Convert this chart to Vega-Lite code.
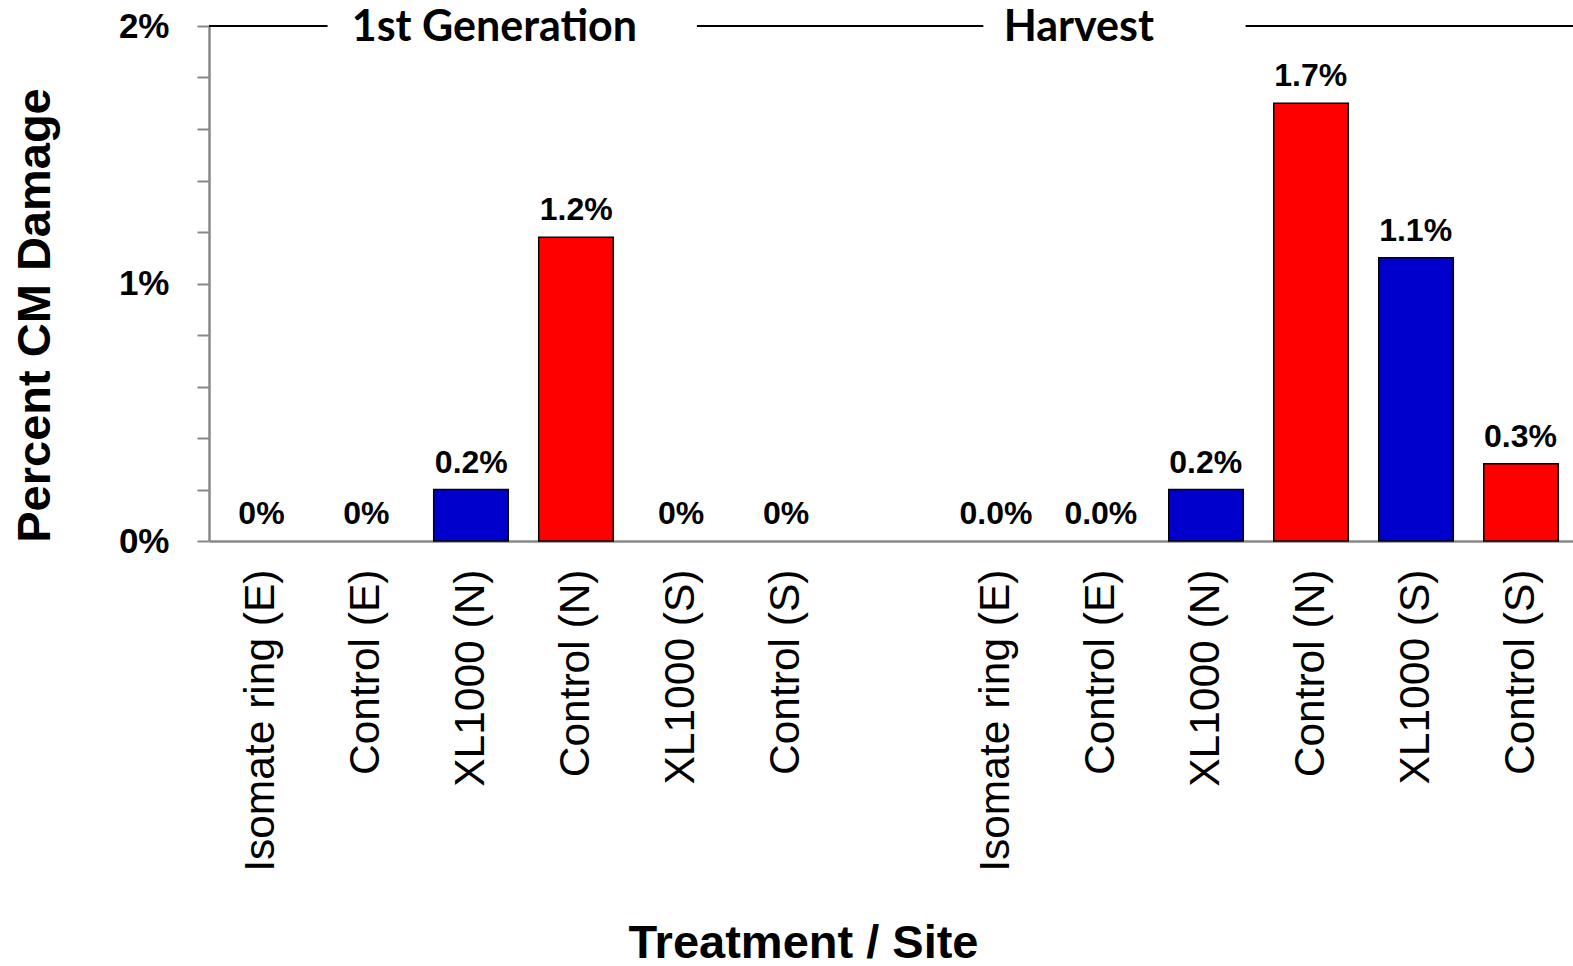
{
  "$schema": "https://vega.github.io/schema/vega-lite/v6.json",
  "width": 1364,
  "height": 515,
  "autosize": {"type": "none"},
  "padding": {"left": 209, "top": 26, "right": 0, "bottom": 425},
  "background": "white",
  "config": {"view": {"stroke": null}, "font": "Liberation Sans"},
  "datasets": {
    "bars": [
      {"cat": "Isomate ring (E)", "period": "1st Generation", "type": "Treatment", "value": 0, "label": "0%"},
      {"cat": "Control (E)", "period": "1st Generation", "type": "Control", "value": 0, "label": "0%"},
      {"cat": "XL1000 (N)", "period": "1st Generation", "type": "Treatment", "value": 0.2, "label": "0.2%"},
      {"cat": "Control (N)", "period": "1st Generation", "type": "Control", "value": 1.18, "label": "1.2%"},
      {"cat": "XL1000 (S)", "period": "1st Generation", "type": "Treatment", "value": 0, "label": "0%"},
      {"cat": "Control (S)", "period": "1st Generation", "type": "Control", "value": 0, "label": "0%"},
      {"cat": "Isomate ring (E) ", "period": "Harvest", "type": "Treatment", "value": 0, "label": "0.0%"},
      {"cat": "Control (E) ", "period": "Harvest", "type": "Control", "value": 0, "label": "0.0%"},
      {"cat": "XL1000 (N) ", "period": "Harvest", "type": "Treatment", "value": 0.2, "label": "0.2%"},
      {"cat": "Control (N) ", "period": "Harvest", "type": "Control", "value": 1.7, "label": "1.7%"},
      {"cat": "XL1000 (S) ", "period": "Harvest", "type": "Treatment", "value": 1.1, "label": "1.1%"},
      {"cat": "Control (S) ", "period": "Harvest", "type": "Control", "value": 0.3, "label": "0.3%"}
    ],
    "segments": [
      {"x": 0, "x2": 1.13},
      {"x": 4.65, "x2": 7.38},
      {"x": 9.88, "x2": 13}
    ],
    "heads": [
      {"x": 2.72, "label": "1st Generation"},
      {"x": 8.29, "label": "Harvest"}
    ]
  },
  "resolve": {"scale": {"x": "independent"}},
  "layer": [
    {
      "mark": {"type": "rule", "color": "#888888", "strokeWidth": 1.5},
      "encoding": {"y": {"datum": 1, "type": "quantitative", "scale": {"domain": [0, 2], "nice": false}}}
    },
    {
      "data": {"name": "bars"},
      "transform": [{"filter": "datum.value > 0"}],
      "mark": {"type": "bar", "stroke": "black", "strokeWidth": 1.5},
      "encoding": {
        "x": {
          "field": "cat", "type": "nominal",
          "scale": {
            "domain": ["Isomate ring (E)", "Control (E)", "XL1000 (N)", "Control (N)", "XL1000 (S)", "Control (S)", " ",
                       "Isomate ring (E) ", "Control (E) ", "XL1000 (N) ", "Control (N) ", "XL1000 (S) ", "Control (S) "],
            "paddingInner": 0.29, "paddingOuter": 0.14
          },
          "axis": {
            "labelAngle": -90, "labelAlign": "right", "labelBaseline": "middle",
            "labelFontSize": 42.5, "labelColor": "black", "labelPadding": 28, "labelLimit": 0,
            "ticks": false, "domainColor": "#888888", "domainWidth": 2.5,
            "title": "Treatment / Site", "titleFontSize": 47, "titleFontWeight": "bold", "titleColor": "black",
            "titleX": 594, "titleY": 402, "titleBaseline": "middle", "titleAlign": "center"
          }
        },
        "y": {
          "field": "value", "type": "quantitative",
          "scale": {"domain": [0, 2], "nice": false},
          "axis": {
            "values": [0, 0.2, 0.4, 0.6, 0.8, 1, 1.2, 1.4, 1.6, 1.8, 2],
            "labelExpr": "datum.value === 0 || datum.value === 1 || datum.value === 2 ? datum.value + '%' : ''",
            "labelFontSize": 35, "labelFontWeight": "bold", "labelColor": "black", "labelPadding": 28,
            "tickSize": 12, "tickColor": "#888888", "tickWidth": 2,
            "domainColor": "#888888", "domainWidth": 2.5, "grid": false,
            "title": "Percent CM Damage", "titleFontSize": 47, "titleFontWeight": "bold", "titleColor": "black",
            "titleX": -174, "titleY": 289, "titleBaseline": "middle", "titleAlign": "center", "titleAngle": -90
          }
        },
        "color": {
          "field": "type", "type": "nominal",
          "scale": {"domain": ["Treatment", "Control"], "range": ["#0000CC", "#FF0000"]},
          "legend": null
        }
      }
    },
    {
      "data": {"name": "bars"},
      "mark": {"type": "text", "fontSize": 32, "fontWeight": "bold", "color": "black", "baseline": "alphabetic", "dy": -17},
      "encoding": {
        "x": {
          "field": "cat", "type": "nominal",
          "scale": {
            "domain": ["Isomate ring (E)", "Control (E)", "XL1000 (N)", "Control (N)", "XL1000 (S)", "Control (S)", " ",
                       "Isomate ring (E) ", "Control (E) ", "XL1000 (N) ", "Control (N) ", "XL1000 (S) ", "Control (S) "],
            "paddingInner": 0.29, "paddingOuter": 0.14
          },
          "axis": null
        },
        "y": {"field": "value", "type": "quantitative"},
        "text": {"field": "label"}
      }
    },
    {
      "data": {"name": "segments"},
      "mark": {"type": "rule", "color": "black", "strokeWidth": 2},
      "encoding": {
        "x": {"field": "x", "type": "quantitative", "scale": {"domain": [0, 13], "nice": false, "zero": false}, "axis": null},
        "x2": {"field": "x2"},
        "y": {"datum": 2, "type": "quantitative"}
      }
    },
    {
      "mark": {"type": "rule", "color": "#404040", "strokeWidth": 3},
      "encoding": {
        "x": {"datum": 6.33, "type": "quantitative", "scale": {"domain": [0, 13], "nice": false, "zero": false}, "axis": null},
        "y": {"datum": 0, "type": "quantitative"},
        "y2": {"datum": 2.012}
      }
    },
    {
      "data": {"name": "heads"},
      "mark": {"type": "text", "font": "Lato", "fontSize": 43, "fontWeight": "bold", "color": "black", "baseline": "middle", "align": "center", "dy": 2},
      "encoding": {
        "x": {"field": "x", "type": "quantitative", "scale": {"domain": [0, 13], "nice": false, "zero": false}, "axis": null},
        "y": {"datum": 2, "type": "quantitative"},
        "text": {"field": "label"}
      }
    }
  ]
}
